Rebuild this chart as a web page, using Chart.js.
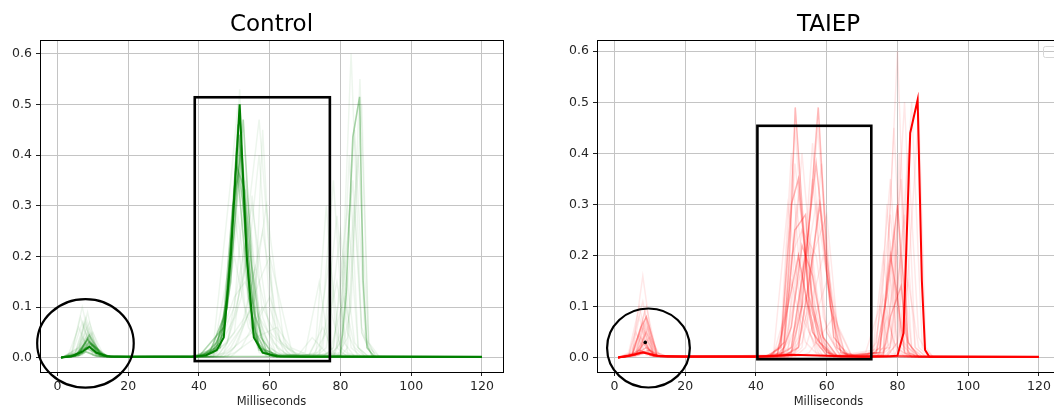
<!DOCTYPE html>
<html>
<head>
<meta charset="utf-8">
<script src="https://cdn.jsdelivr.net/npm/chart.js@4.4.1/dist/chart.umd.min.js"></script>
<style>
  html, body { margin: 0; padding: 0; background: #fff; overflow: hidden; width: 1054px; height: 409px; }
  canvas { position: absolute; top: 0; }
  #chart-control { left: 0; }
  #chart-taiep   { left: 557px; }
</style>
</head>
<body>
<canvas id="chart-control" width="527" height="409" style="width:527px;height:409px"></canvas>
<canvas id="chart-taiep"   width="527" height="409" style="width:527px;height:409px"></canvas>
<script>
// ── Data: each trace is a list of [ms, value] vertices ────────────────────

const X_TICKS = [0, 20, 40, 60, 80, 100, 120];
const Y_TICKS = [0.0, 0.1, 0.2, 0.3, 0.4, 0.5, 0.6];

// Control: the opaque trace
const CTRL_MAIN = [[1,0.001],[4,0.003],[7,0.012],[9,0.022],[11,0.01],[14,0.003],[20,0.002],[38,0.002],[42,0.005],[45,0.015],[47,0.04],[49,0.2],[51.5,0.5],[53.5,0.2],[55.5,0.04],[58,0.01],[62,0.003],[70,0.002],[120,0.002]];

// Control: the half-transparent late trace (80–90 ms)
const CTRL_LATE = [[1,0],[6,0.004],[8,0.012],[11,0.003],[14,0.002],[78,0.003],[80,0.004],[81.6,0.127],[83.5,0.436],[85.4,0.515],[86.4,0.153],[87.5,0.02],[89.6,0.002],[120,0.002]];

// Control: dense core bundle
const CTRL_CORE = [
  [[1,0],[5,0.004],[9,0.032],[13,0.004],[16,0.002],[40,0.002],[44,0.01],[47,0.05],[49,0.22],[51.5,0.49],[53.5,0.2],[55.5,0.05],[58,0.01],[62,0.002],[120,0.002]],
  [[1,0],[6,0.006],[8.5,0.038],[12,0.008],[15,0.002],[42,0.004],[46,0.03],[48.5,0.15],[51,0.46],[53,0.25],[55,0.06],[57,0.015],[62,0.003],[120,0.001]],
  [[1,0],[5,0.003],[9.5,0.028],[14,0.003],[38,0.002],[45,0.02],[48,0.12],[50.5,0.4],[52.5,0.3],[54.5,0.1],[57,0.02],[63,0.003],[120,0.002]],
  [[1,0],[6,0.005],[10,0.025],[13,0.005],[16,0.002],[40,0.003],[47,0.06],[50,0.3],[52,0.42],[54,0.2],[56,0.05],[59,0.01],[63,0.002],[120,0.002]],
  [[1,0],[4,0.002],[8,0.02],[12,0.004],[38,0.002],[43,0.01],[47,0.08],[49.5,0.3],[51,0.36],[54,0.12],[56.5,0.03],[60,0.005],[120,0.002]],
  [[1,0],[6,0.008],[9,0.045],[12,0.01],[15,0.002],[40,0.003],[46,0.02],[49,0.15],[51.5,0.44],[54.5,0.15],[57,0.02],[61,0.002],[120,0.002]],
  [[1,0],[7,0.01],[9,0.03],[11,0.012],[14,0.002],[41,0.003],[45,0.03],[48,0.1],[50,0.25],[52.5,0.47],[55,0.18],[57.5,0.04],[61,0.006],[120,0.002]],
  [[1,0],[5,0.004],[8.5,0.035],[12,0.006],[15,0.002],[39,0.002],[44,0.015],[47.5,0.07],[50.5,0.38],[53,0.33],[56,0.08],[59,0.015],[63,0.002],[120,0.002]],
];

// Control: faint spread of individual trials
const CTRL_FAINT = [
  [[1,0],[4,0.01],[7,0.1],[10,0.01],[13,0.002],[44,0.002],[50,0.05],[57,0.47],[62,0.02],[66,0.002],[120,0.001]],
  [[1,0],[3,0.005],[6,0.06],[9,0.01],[12,0.002],[42,0.003],[48,0.03],[55,0.3],[60,0.05],[66,0.005],[70,0.002],[78,0.003],[80,0.05],[83,0.6],[86,0.05],[89,0.002],[120,0.001]],
  [[1,0],[5,0.01],[8,0.08],[11,0.01],[14,0.002],[44,0.005],[50,0.1],[53,0.35],[57,0.08],[63,0.01],[67,0.002],[71,0.003],[73,0.03],[76,0.3],[79,0.02],[82,0.002],[120,0.001]],
  [[1,0],[7,0.01],[10,0.05],[13,0.005],[16,0.002],[43,0.002],[46,0.01],[53,0.08],[58,0.25],[63,0.03],[68,0.003],[74,0.01],[78,0.35],[81,0.03],[84,0.002],[120,0.001]],
  [[1,0],[6,0.02],[9,0.07],[12,0.01],[15,0.002],[41,0.002],[44,0.01],[49,0.2],[51.5,0.53],[54,0.15],[58,0.01],[62,0.002],[80,0.003],[82,0.02],[86,0.5],[88,0.03],[90,0.002],[120,0.001]],
  [[1,0],[5,0.01],[7,0.04],[10,0.005],[13,0.002],[45,0.002],[48,0.01],[55,0.05],[60,0.12],[65,0.02],[69,0.002],[73,0.002],[76,0.02],[80,0.25],[83,0.02],[86,0.002],[120,0.001]],
  [[1,0],[6,0.01],[8,0.05],[11,0.005],[14,0.002],[42,0.002],[45,0.01],[50,0.08],[54,0.22],[58,0.05],[62,0.005],[66,0.002],[80,0.01],[84,0.45],[87,0.04],[90,0.002],[120,0.001]],
  [[1,0],[7,0.02],[9,0.06],[12,0.005],[15,0.002],[44,0.002],[47,0.01],[52,0.06],[56,0.18],[61,0.03],[65,0.005],[70,0.01],[74,0.15],[77,0.01],[80,0.002],[120,0.001]],
  [[1,0],[5,0.005],[8,0.03],[11,0.005],[14,0.002],[40,0.002],[43,0.01],[48,0.1],[51,0.28],[55,0.05],[59,0.003],[75,0.002],[78,0.02],[82,0.3],[85,0.02],[88,0.002],[120,0.001]],
  [[1,0],[6,0.02],[8.5,0.09],[11,0.01],[14,0.002],[46,0.002],[49,0.02],[55,0.1],[59,0.3],[64,0.03],[68,0.003],[73,0.01],[77,0.2],[80,0.01],[83,0.002],[120,0.001]],
  [[1,0],[4,0.01],[6.5,0.08],[10,0.005],[13,0.002],[42,0.002],[45,0.02],[50,0.12],[53,0.15],[60,0.02],[64,0.002],[78,0.002],[81,0.05],[85,0.4],[88,0.02],[91,0.002],[120,0.001]],
  [[1,0],[6,0.005],[8,0.04],[10,0.02],[13,0.002],[47,0.002],[50,0.01],[56,0.04],[62,0.06],[67,0.01],[72,0.002],[77,0.01],[81,0.12],[84,0.02],[87,0.002],[120,0.001]],
  [[1,0],[5,0.01],[9,0.05],[12,0.01],[15,0.002],[44,0.003],[47,0.05],[51,0.45],[54,0.3],[58,0.02],[62,0.002],[72,0.002],[75,0.02],[79,0.28],[82,0.05],[85,0.002],[120,0.001]],
  [[1,0],[6,0.01],[7.5,0.07],[11,0.01],[14,0.002],[45,0.002],[48,0.03],[54,0.2],[57,0.4],[60,0.1],[64,0.01],[68,0.002],[80,0.003],[83,0.1],[85.5,0.55],[88,0.03],[91,0.002],[120,0.001]],
  [[1,0],[5,0.004],[9,0.04],[13,0.004],[16,0.002],[48,0.002],[51,0.03],[57,0.15],[60,0.2],[66,0.02],[71,0.005],[75,0.06],[78,0.01],[81,0.002],[120,0.001]],
  [[1,0],[7,0.005],[10,0.03],[13,0.003],[43,0.002],[46,0.02],[50,0.25],[52,0.38],[56,0.1],[60,0.02],[64,0.002],[76,0.002],[79,0.02],[83.5,0.35],[86,0.05],[89,0.002],[120,0.001]],
  [[1,0],[6,0.01],[8,0.06],[11,0.004],[14,0.002],[41,0.002],[44,0.02],[49,0.35],[51,0.5],[55,0.1],[60,0.01],[68,0.005],[72,0.04],[76,0.01],[79,0.002],[120,0.001]],
  [[1,0],[5,0.006],[9.5,0.05],[12,0.004],[15,0.002],[47,0.002],[50,0.02],[56,0.12],[58,0.45],[61,0.06],[65,0.01],[69,0.002],[77,0.002],[80,0.03],[82.5,0.4],[85,0.02],[88,0.002],[120,0.001]],
  [[1,0],[4,0.006],[7,0.07],[10,0.008],[13,0.002],[40,0.002],[43,0.008],[47,0.06],[50,0.3],[53,0.1],[57,0.01],[61,0.002],[74,0.005],[77,0.1],[80,0.02],[83,0.002],[120,0.001]],
  [[1,0],[6,0.008],[9,0.04],[12,0.004],[15,0.002],[44,0.002],[47,0.01],[52,0.12],[55,0.32],[58,0.08],[62,0.005],[70,0.002],[75,0.002],[78,0.02],[81,0.2],[84,0.03],[87,0.002],[120,0.001]],
  [[1,0],[5,0.01],[8,0.07],[11,0.005],[14,0.002],[39,0.002],[42,0.006],[46,0.04],[50,0.2],[54,0.06],[59,0.005],[72,0.002],[76,0.05],[79,0.15],[82,0.01],[85,0.002],[120,0.001]],
  [[1,0],[7,0.01],[9,0.045],[12,0.003],[49,0.002],[52,0.02],[58,0.1],[62,0.04],[67,0.005],[73,0.002],[79,0.002],[82,0.04],[84,0.3],[86,0.06],[89,0.002],[120,0.001]],
];

// TAIEP: the opaque trace
const TAIEP_MAIN = [[1,0.001],[4,0.004],[8,0.01],[12,0.004],[20,0.002],[40,0.002],[45,0.004],[50,0.006],[60,0.004],[70,0.002],[78,0.003],[80,0.004],[81.7,0.048],[83.6,0.44],[85.7,0.505],[86.9,0.15],[87.8,0.015],[89,0.002],[120,0.002]];

// TAIEP: dense core bundle
const TAIEP_CORE = [
  [[1,0],[5,0.005],[8,0.012],[12,0.004],[40,0.002],[44,0.005],[47.7,0.01],[49.5,0.2],[51.1,0.49],[53,0.3],[55,0.1],[57,0.03],[60,0.005],[64,0.002],[120,0.002]],
  [[1,0],[6,0.004],[9,0.01],[13,0.003],[45,0.003],[50,0.01],[53,0.1],[55.5,0.3],[57.6,0.49],[60,0.2],[62.9,0.02],[66,0.004],[120,0.002]],
  [[1,0],[4,0.003],[7,0.015],[11,0.004],[43,0.003],[47,0.02],[50,0.3],[52,0.35],[55,0.12],[58,0.03],[62,0.005],[120,0.002]],
  [[1,0],[6,0.006],[9,0.02],[12,0.003],[46,0.003],[50,0.02],[54,0.2],[57,0.38],[59,0.25],[62,0.04],[66,0.005],[120,0.002]],
  [[1,0],[5,0.004],[8,0.012],[11,0.003],[44,0.004],[48,0.03],[51,0.25],[54,0.28],[56,0.1],[59,0.02],[62,0.002],[120,0.002]],
  [[1,0],[7,0.008],[10,0.015],[13,0.002],[48,0.004],[52,0.02],[55,0.15],[58,0.3],[61,0.1],[64,0.01],[68,0.003],[75,0.01],[78,0.2],[80,0.12],[82,0.01],[84,0.002],[120,0.002]],
  [[1,0],[5,0.005],[7.5,0.06],[9,0.08],[12,0.01],[15,0.002],[46,0.005],[49,0.1],[52,0.2],[56,0.05],[60,0.01],[64,0.002],[74,0.01],[77,0.12],[80,0.3],[83,0.03],[86,0.002],[120,0.002]],
  [[1,0],[6,0.006],[8.5,0.03],[11,0.004],[47,0.004],[50,0.06],[53,0.22],[56,0.16],[59,0.04],[63,0.003],[76,0.005],[78,0.08],[81,0.14],[83,0.01],[86,0.002],[120,0.002]],
];

// TAIEP: faint spread of individual trials
const TAIEP_FAINT = [
  [[1,0],[5,0.01],[8,0.16],[11,0.01],[14,0.002],[42,0.002],[45,0.01],[49,0.3],[53,0.08],[58,0.005],[74,0.003],[76,0.01],[80,0.6],[83,0.02],[86,0.002],[120,0.001]],
  [[1,0],[4,0.01],[7,0.1],[10,0.01],[13,0.002],[44,0.002],[47,0.02],[51,0.45],[55,0.1],[61,0.01],[65,0.002],[71,0.002],[74,0.02],[78,0.35],[81,0.03],[84,0.002],[120,0.001]],
  [[1,0],[6,0.01],[9,0.08],[12,0.005],[15,0.002],[45,0.002],[48,0.01],[52,0.2],[56,0.05],[60,0.002],[75,0.01],[77,0.3],[80,0.02],[83,0.002],[120,0.001]],
  [[1,0],[4,0.005],[6,0.05],[9,0.005],[12,0.002],[46,0.002],[49,0.03],[53,0.4],[57,0.08],[61,0.002],[78,0.02],[82,0.5],[85,0.02],[88,0.002],[120,0.001]],
  [[1,0],[7,0.01],[10,0.04],[13,0.003],[47,0.002],[50,0.02],[55,0.25],[59,0.03],[63,0.002],[77,0.002],[80,0.03],[84,0.5],[87,0.02],[90,0.002],[120,0.001]],
  [[1,0],[6,0.01],[8.5,0.09],[11,0.005],[14,0.002],[48,0.002],[51,0.02],[56,0.35],[60,0.05],[64,0.002],[79,0.002],[82,0.05],[86,0.48],[88,0.02],[90,0.002],[120,0.001]],
  [[1,0],[5,0.01],[7.5,0.06],[10,0.005],[13,0.002],[49,0.002],[52,0.03],[57.5,0.45],[62,0.03],[66,0.002],[72,0.002],[75,0.02],[79,0.25],[82,0.02],[85,0.002],[120,0.001]],
  [[1,0],[6,0.005],[9,0.05],[12,0.004],[15,0.002],[50,0.002],[53,0.03],[59,0.2],[64,0.01],[68,0.002],[73,0.01],[76,0.2],[79,0.01],[82,0.002],[120,0.001]],
  [[1,0],[5,0.008],[8,0.07],[11,0.006],[14,0.002],[51,0.002],[54,0.02],[60,0.15],[65,0.01],[69,0.002],[75,0.002],[78,0.03],[81,0.2],[84,0.02],[87,0.002],[120,0.001]],
  [[1,0],[7,0.01],[9.5,0.06],[12,0.005],[15,0.002],[52,0.002],[55,0.01],[62,0.08],[67,0.005],[71,0.01],[75,0.1],[78,0.01],[81,0.002],[120,0.001]],
  [[1,0],[4,0.004],[8,0.11],[11,0.006],[14,0.002],[43,0.002],[46,0.01],[50,0.15],[54,0.03],[58,0.002],[77,0.002],[79,0.05],[80.5,0.4],[83,0.03],[86,0.002],[120,0.001]],
  [[1,0],[6,0.006],[9,0.07],[12,0.004],[15,0.002],[46,0.002],[49,0.02],[54,0.12],[58,0.02],[62,0.002],[77,0.002],[80,0.03],[83,0.15],[86,0.02],[89,0.002],[120,0.001]],
  [[1,0],[5,0.007],[7,0.08],[10,0.005],[13,0.002],[44,0.002],[47,0.03],[50,0.4],[53,0.1],[57,0.01],[61,0.002],[71,0.002],[74,0.03],[78,0.28],[81,0.04],[84,0.002],[120,0.001]],
  [[1,0],[6,0.004],[8,0.04],[11,0.004],[14,0.002],[49,0.002],[52,0.04],[56,0.42],[59,0.08],[63,0.01],[67,0.002],[73,0.002],[76,0.02],[79,0.45],[82,0.03],[85,0.002],[120,0.001]],
  [[1,0],[5,0.005],[9,0.1],[12,0.004],[15,0.002],[50,0.002],[53,0.02],[58,0.3],[61,0.1],[65,0.01],[69,0.002],[74,0.002],[77,0.03],[81,0.35],[84,0.02],[87,0.002],[120,0.001]],
  [[1,0],[7,0.006],[8.5,0.05],[11,0.004],[14,0.002],[45,0.002],[48,0.02],[51.5,0.3],[55,0.05],[59,0.002],[72,0.002],[75,0.02],[77.5,0.18],[80,0.02],[83,0.002],[120,0.001]],
  [[1,0],[5,0.006],[8,0.06],[11,0.004],[14,0.002],[43,0.002],[46,0.006],[49,0.12],[52,0.32],[56,0.12],[60,0.01],[64,0.002],[73,0.005],[76,0.12],[79,0.03],[82,0.002],[120,0.001]],
  [[1,0],[6,0.005],[9,0.035],[12,0.003],[47,0.002],[50,0.01],[54,0.18],[57,0.3],[61,0.12],[65,0.01],[69,0.002],[74,0.002],[77,0.02],[80,0.22],[83,0.02],[86,0.002],[120,0.001]],
  [[1,0],[4,0.004],[7,0.045],[10,0.004],[13,0.002],[42,0.002],[45,0.008],[48,0.08],[51,0.38],[54,0.2],[58,0.03],[62,0.002],[76,0.01],[79,0.15],[82,0.01],[85,0.002],[120,0.001]],
  [[1,0],[6,0.006],[8.5,0.07],[11,0.004],[14,0.002],[48,0.002],[51,0.01],[55,0.1],[58.5,0.38],[61,0.15],[64,0.02],[68,0.002],[75,0.002],[78,0.02],[82,0.28],[85,0.02],[88,0.002],[120,0.001]],
  [[1,0],[5,0.004],[8,0.03],[11,0.003],[44,0.002],[47,0.01],[50,0.2],[53,0.25],[57,0.06],[61,0.004],[74,0.01],[77,0.08],[80,0.01],[83,0.002],[120,0.001]],
  [[1,0],[7,0.008],[9,0.06],[12,0.004],[15,0.002],[49,0.002],[52,0.02],[56,0.2],[60,0.28],[63,0.06],[67,0.004],[76,0.002],[79,0.02],[83,0.4],[86,0.04],[89,0.002],[120,0.001]],
  [[1,0],[5,0.006],[7.5,0.04],[10,0.004],[13,0.002],[45,0.002],[48,0.02],[52,0.15],[55,0.22],[59,0.04],[63,0.002],[72,0.002],[75,0.02],[78,0.22],[81,0.02],[84,0.002],[120,0.001]],
  [[1,0],[6,0.005],[9,0.05],[12,0.003],[46,0.002],[49,0.01],[53,0.25],[57,0.2],[60,0.05],[64,0.003],[76,0.01],[80,0.3],[82,0.05],[85,0.002],[120,0.001]],
];

// Annotation shapes in data units: box [x0, x1, y0, y1], ring [cx, cy, rx, ry], dot [x, y]
const CTRL_BOX   = [38.8, 77.0, -0.0065, 0.514];
const CTRL_RING  = [7.9, 0.0285, 13.65, 0.0872];
const TAIEP_BOX  = [40.4, 72.6, -0.003, 0.454];
const TAIEP_RING = [9.6, 0.019, 11.7, 0.0773];
const TAIEP_DOT  = [8.7, 0.03];

// ── Helpers ───────────────────────────────────────────────────────────────

const _FONT  = 'DejaVu Sans, sans-serif';
const _TICKS = '#262626';
const _GRID  = '#c4c4c4';

function _traces(list, rgb, alpha, width) {
  return list.map(pts => ({
    data: pts,
    borderColor: `rgba(${rgb},${alpha})`,
    borderWidth: width,
    pointRadius: 0,
    tension: 0,
    fill: false,
  }));
}

// frame + black box / ring / dot annotations drawn over the plot
const annotations = {
  id: 'annotations',
  afterDraw(chart, args, opts) {
    const { ctx, chartArea: a, scales: { x, y } } = chart;
    const px = v => x.getPixelForValue(v);
    const py = v => y.getPixelForValue(v);
    ctx.save();

    ctx.strokeStyle = '#000';
    ctx.lineWidth = 1;
    ctx.strokeRect(Math.round(a.left) + 0.5, Math.round(a.top) + 0.5,
                   Math.round(a.right - a.left), Math.round(a.bottom - a.top));

    const [x0, x1, y0, y1] = opts.box;
    ctx.lineWidth = 2.6;
    ctx.strokeRect(px(x0), py(y1), px(x1) - px(x0), py(y0) - py(y1));

    const [cx, cy, rx, ry] = opts.ring;
    ctx.lineWidth = 2.2;
    ctx.beginPath();
    ctx.ellipse(px(cx), py(cy), px(cx + rx) - px(cx), py(cy) - py(cy + ry), 0, 0, Math.PI * 2);
    ctx.stroke();

    if (opts.dot) {
      ctx.fillStyle = '#000';
      ctx.beginPath();
      ctx.arc(px(opts.dot[0]), py(opts.dot[1]), 1.8, 0, Math.PI * 2);
      ctx.fill();
    }

    if (opts.legend) {   // empty legend frame in the corner
      ctx.strokeStyle = '#d6d6d6';
      ctx.lineWidth = 1;
      ctx.beginPath();
      ctx.roundRect(a.right - 16.5, a.top + 6.5, 14, 11, 2);
      ctx.stroke();
    }
    ctx.restore();
  },
};

function _chart(id, title, datasets, yMax, notes) {
  const ctx = document.getElementById(id).getContext('2d');
  return new Chart(ctx, {
    type: 'line',
    data: { datasets },
    plugins: [annotations],
    options: {
      responsive: false,
      animation: false,
      devicePixelRatio: 1,
      layout: { padding: { left: 0, right: 24, top: 0, bottom: 0 } },
      plugins: {
        legend: { display: false },
        tooltip: { enabled: false },
        title: {
          display: true,
          text: title,
          fullSize: false,
          color: '#000',
          font: { family: _FONT, size: 23, weight: 'normal' },
          padding: { top: 11.5, bottom: 0.9 },
        },
        annotations: notes,
      },
      scales: {
        x: {
          type: 'linear',
          min: -4.95,
          max: 125.95,
          afterBuildTicks: s => { s.ticks = X_TICKS.map(v => ({ value: v })); },
          afterFit: s => { s.height = 37; },
          ticks: { color: _TICKS, font: { family: _FONT, size: 12.5 }, padding: 3, maxRotation: 0, autoSkip: false },
          grid: { color: _GRID, lineWidth: 1, tickLength: 4, tickColor: '#222' },
          border: { display: false },
          title: {
            display: true,
            text: 'Milliseconds',
            color: '#262626',
            font: { family: _FONT, size: 11.5 },
            padding: { top: 0, bottom: 0 },
          },
        },
        y: {
          type: 'linear',
          min: -0.028,
          max: yMax,
          afterBuildTicks: s => { s.ticks = Y_TICKS.map(v => ({ value: v })); },
          afterFit: s => { s.width = 40; },
          ticks: {
            color: _TICKS, font: { family: _FONT, size: 12.5 }, padding: 4,
            callback: v => v.toFixed(1),
          },
          grid: { color: _GRID, lineWidth: 1, tickLength: 4, tickColor: '#222' },
          border: { display: false },
        },
      },
    },
  });
}

// ── Build both panels (first dataset is drawn on top) ─────────────────────

const GREEN = '0,128,0';
const RED   = '255,0,0';

_chart('chart-control', 'Control', [
  ..._traces([CTRL_MAIN], GREEN, 1, 2),
  ..._traces([CTRL_LATE], GREEN, 0.35, 1.6),
  ..._traces(CTRL_CORE, GREEN, 0.3, 1.6),
  ..._traces(CTRL_FAINT, GREEN, 0.07, 1.5),
], 0.627, { box: CTRL_BOX, ring: CTRL_RING });

_chart('chart-taiep', 'TAIEP', [
  ..._traces([TAIEP_MAIN], RED, 1, 2),
  ..._traces(TAIEP_CORE, RED, 0.28, 1.5),
  ..._traces(TAIEP_FAINT, RED, 0.09, 1.5),
], 0.622, { box: TAIEP_BOX, ring: TAIEP_RING, dot: TAIEP_DOT, legend: true });
</script>
</body>
</html>
